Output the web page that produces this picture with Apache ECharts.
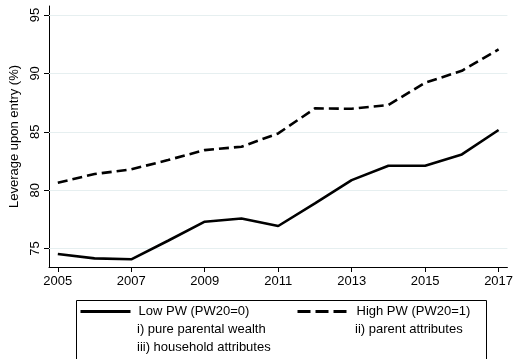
<!DOCTYPE html>
<html>
<head>
<meta charset="utf-8">
<script src="https://cdn.jsdelivr.net/npm/echarts@6/dist/echarts.min.js"></script>
<style>
  html, body { margin: 0; padding: 0; background: #fff; }
  #chart { width: 516px; height: 359px; }
</style>
</head>
<body>
<div id="chart"></div>
<script>
// Leverage upon entry by parental-wealth group, 2005-2017
const years = [2005, 2006, 2007, 2008, 2009, 2010, 2011, 2012, 2013, 2014, 2015, 2016, 2017];
const lowPW = [74.53, 74.16, 74.08, 75.67, 77.30, 77.58, 76.93, 78.87, 80.86, 82.09, 82.09, 83.06, 85.15];
const highPW = [80.63, 81.38, 81.78, 82.58, 83.43, 83.72, 84.86, 87.00, 86.97, 87.29, 89.20, 90.22, 92.05];
const xTicks = [2005, 2007, 2009, 2011, 2013, 2015, 2017];
const yTicks = [75, 80, 85, 90, 95];
const seriesNames = ['Low PW (PW20=0)', 'High PW (PW20=1)'];
const noteLines = ['i) pure parental wealth', 'ii) parent attributes', 'iii) household attributes'];

const FONT = '"Liberation Sans", Arial, sans-serif';
const FS = 13;

const chart = echarts.init(document.getElementById('chart'), null, { renderer: 'canvas' });

const pairs = (vals) => years.map((y, i) => [y, vals[i]]);

const legendBase = {
  top: 305, padding: 0, itemWidth: 50, itemHeight: 14, itemGap: 0,
  itemStyle: { opacity: 0 }
};

chart.setOption({
  animation: false,
  backgroundColor: '#ffffff',
  grid: { left: 46, right: 6, top: 6, bottom: 92, containLabel: false },
  xAxis: {
    type: 'value',
    min: 2004.76,
    max: 2017.24,
    axisLine: { show: true, lineStyle: { color: '#000', width: 1 } },
    axisTick: { show: true, length: 5, customValues: xTicks, lineStyle: { color: '#000' } },
    axisLabel: { customValues: xTicks, color: '#000', fontFamily: FONT, fontSize: FS, margin: 8,
                 formatter: (v) => String(v) },
    splitLine: { show: false }
  },
  yAxis: {
    type: 'value',
    min: 73.42,
    max: 95.77,
    name: 'Leverage upon entry (%)',
    nameLocation: 'middle',
    nameGap: 28,
    nameRotate: 90,
    nameTextStyle: { color: '#000', fontFamily: FONT, fontSize: FS },
    axisLine: { show: true, lineStyle: { color: '#000', width: 1 } },
    axisTick: { show: true, length: 5, customValues: yTicks, lineStyle: { color: '#000' } },
    axisLabel: { customValues: yTicks, rotate: 90, color: '#000', fontFamily: FONT, fontSize: FS, margin: 7 },
    splitLine: { show: false }
  },
  legend: [
    Object.assign({}, legendBase, {
      data: [seriesNames[0]], left: 79,
      lineStyle: { width: 3 },
      textStyle: { color: '#000', fontFamily: FONT, fontSize: FS, padding: [0, 0, 0, 3] }
    }),
    Object.assign({}, legendBase, {
      data: [seriesNames[1]], left: 296,
      lineStyle: { width: 3, type: [13, 5] },
      textStyle: { color: '#000', fontFamily: FONT, fontSize: FS, padding: [0, 0, 0, 4] }
    })
  ],
  graphic: [
    { type: 'rect', left: 74, top: 298, shape: { width: 410, height: 80 }, style: { fill: 'none', stroke: '#000', lineWidth: 1 }, silent: true },
    { type: 'text', left: 137, top: 323, style: { text: noteLines[0], fill: '#000', font: FS + 'px ' + FONT } },
    { type: 'text', left: 355, top: 323, style: { text: noteLines[1], fill: '#000', font: FS + 'px ' + FONT } },
    { type: 'text', left: 137, top: 341, style: { text: noteLines[2], fill: '#000', font: FS + 'px ' + FONT } }
  ],
  series: [
    {
      name: seriesNames[0], type: 'line', data: pairs(lowPW), symbol: 'none',
      lineStyle: { color: '#000', width: 2.6, type: 'solid' }, itemStyle: { color: '#000' },
      markLine: {
        silent: true, symbol: 'none', label: { show: false }, z: 1,
        lineStyle: { color: '#e6eff0', width: 1, type: 'solid' },
        data: yTicks.map((v) => ({ yAxis: v }))
      },
      z: 3
    },
    {
      name: seriesNames[1], type: 'line', data: pairs(highPW), symbol: 'none',
      lineStyle: { color: '#000', width: 2.6, type: [10, 5] }, itemStyle: { color: '#000' },
      z: 3
    }
  ]
});
</script>
</body>
</html>
